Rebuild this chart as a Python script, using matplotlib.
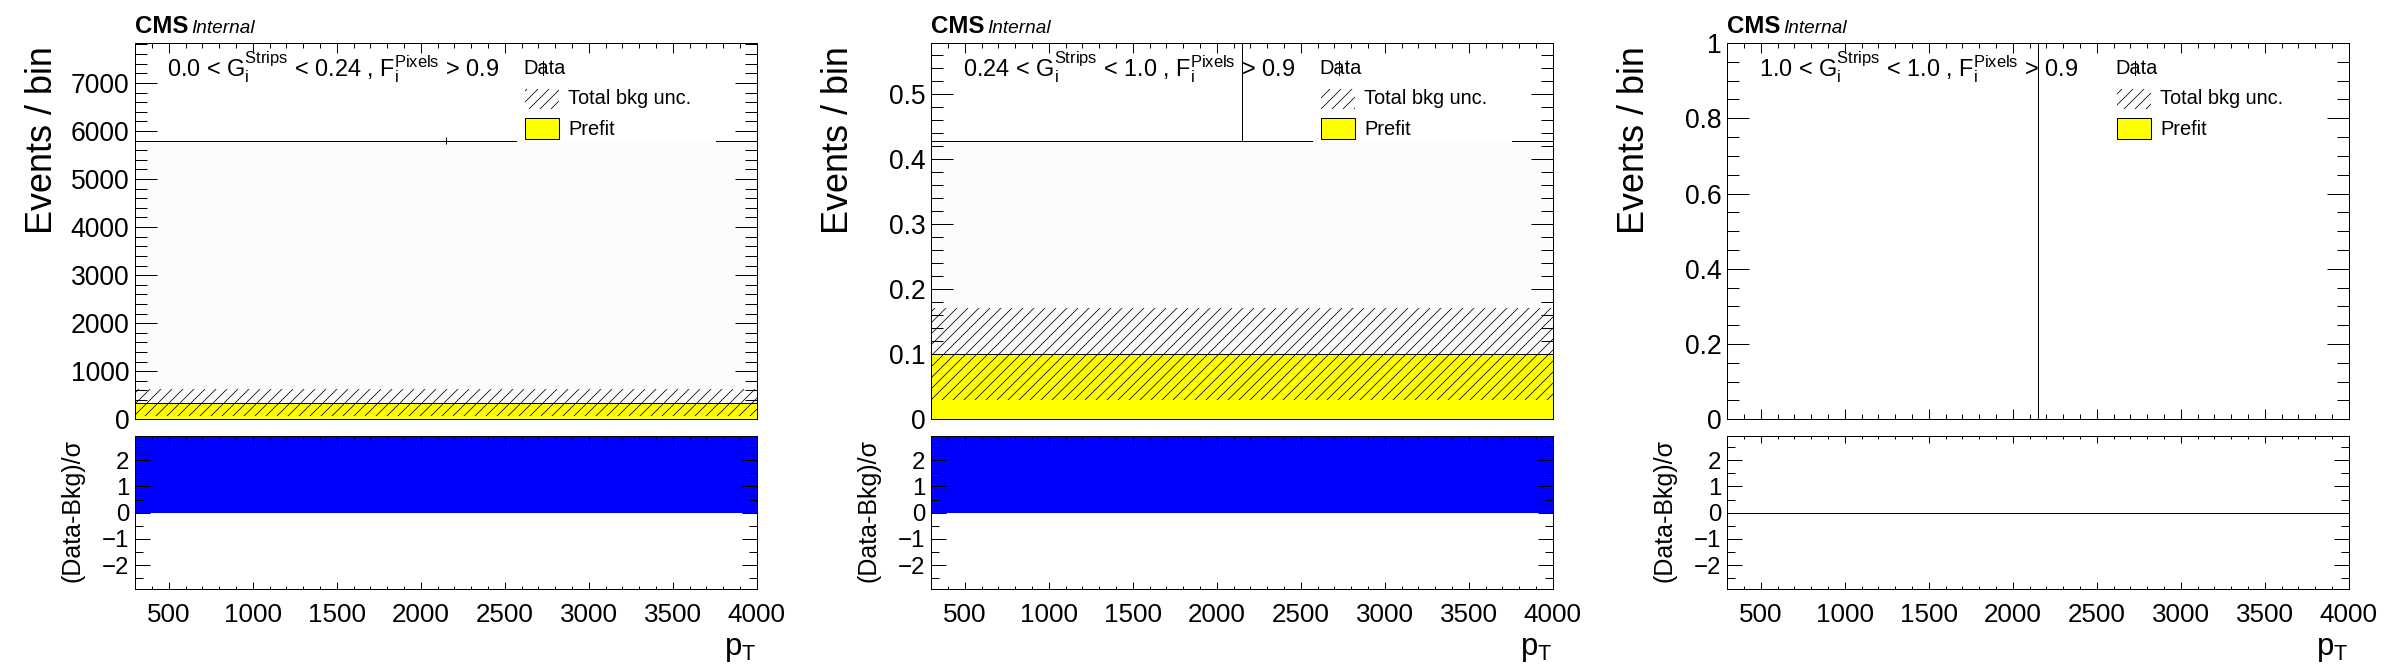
import matplotlib
matplotlib.use("Agg")
import matplotlib.pyplot as plt
from matplotlib.patches import Rectangle
from matplotlib.lines import Line2D
from matplotlib.ticker import MultipleLocator, FuncFormatter
import numpy as np

# values (one bin each)
g_lo = ["0.0", "0.24", "1.0"]
g_hi = ["0.24", "1.0", "1.0"]
f_cut = "0.9"
bin_edges = [300, 4000]
data = [5800, 0.428, 0.0]
data_err_lo = [76, 0.0, 0.0]
data_err_hi = [76, 1.0, 1.84]
bkg = [347, 0.100, 0.0]
bkg_unc = [278, 0.071, 0.0]
pull = [18.9, 4.6, 0.0]
y_max = [7830, 0.578, 1.0]
y_major = [1000, 0.1, 0.2]
y_minor = [200, 0.02, 0.05]
pull_range = 2.92

W, H, DPI = 2388, 672, 132
PT = 72.0 / DPI  # one pixel in points
HATCH = '////'

plt.rcParams['font.family'] = ['Liberation Sans', 'DejaVu Sans']
plt.rcParams['mathtext.fontset'] = 'custom'
plt.rcParams['mathtext.rm'] = 'Liberation Sans'
plt.rcParams['mathtext.it'] = 'Liberation Sans:italic'
plt.rcParams['hatch.linewidth'] = 0.42
plt.rcParams['axes.linewidth'] = PT
plt.rcParams['axes.unicode_minus'] = True

fig = plt.figure(figsize=(W / DPI, H / DPI), dpi=DPI)


def fx(px):
    return px / W


def fy(py):
    return 1 - py / H


def fmt(v, pos):
    s = '%g' % round(v, 6)
    return s.replace('-', '\u2212')


edges = np.array(bin_edges, dtype=float)
center = edges.mean()

for i in range(3):
    off = 796 * i
    ax = fig.add_axes([fx(135.3 + off), fy(419.3), 621.4 / W, 376.3 / H])
    rax = fig.add_axes([fx(135.3 + off), fy(589.3), 621.4 / W, 153.3 / H])

    # upper pad
    ax.stairs([data[i]], edges, fill=True, color='#fcfcfc', lw=0, zorder=1)
    ax.stairs([bkg[i]], edges, fill=True, color='#ffff00', lw=0, zorder=2)
    ax.stairs([bkg[i]], edges, baseline=None, color='black', lw=PT, zorder=3)
    ax.stairs([bkg[i] + bkg_unc[i]], edges, baseline=[bkg[i] - bkg_unc[i]], fill=True,
              facecolor='none', edgecolor='black', hatch=HATCH, lw=0, zorder=4)
    ax.stairs([data[i]], edges, baseline=None, color='black', lw=PT, zorder=5)
    ax.vlines(center, data[i] - data_err_lo[i], data[i] + data_err_hi[i], color='black', lw=PT, zorder=5)

    ax.set_xlim(edges[0], edges[-1])
    ax.set_ylim(0, y_max[i])
    ax.xaxis.set_major_locator(MultipleLocator(500))
    ax.xaxis.set_minor_locator(MultipleLocator(100))
    ax.yaxis.set_major_locator(MultipleLocator(y_major[i]))
    ax.yaxis.set_minor_locator(MultipleLocator(y_minor[i]))
    ax.yaxis.set_major_formatter(FuncFormatter(fmt))
    ax.tick_params(which='both', direction='in', top=True, right=True, labelbottom=False, width=PT)
    ax.tick_params(axis='y', which='major', length=21.7 * PT, labelsize=26.5 * PT, pad=6 * PT)
    ax.tick_params(axis='y', which='minor', length=11.7 * PT)
    ax.tick_params(axis='x', which='major', length=10 * PT)
    ax.tick_params(axis='x', which='minor', length=5 * PT)

    # pull pad
    rax.stairs([pull[i]], edges, fill=True, color='#0000ff', lw=0)
    rax.stairs([pull[i]], edges, baseline=None, color='black', lw=PT)
    rax.set_xlim(edges[0], edges[-1])
    rax.set_ylim(-pull_range, pull_range)
    rax.xaxis.set_major_locator(MultipleLocator(500))
    rax.xaxis.set_minor_locator(MultipleLocator(100))
    rax.yaxis.set_major_locator(MultipleLocator(1))
    rax.yaxis.set_minor_locator(MultipleLocator(0.5))
    rax.yaxis.set_major_formatter(FuncFormatter(fmt))
    rax.tick_params(which='both', direction='in', top=True, right=True, width=PT)
    rax.tick_params(axis='y', which='major', length=15 * PT, labelsize=24 * PT, pad=6 * PT)
    rax.tick_params(axis='y', which='minor', length=8 * PT)
    rax.tick_params(axis='x', which='major', length=7 * PT, labelsize=26 * PT, pad=14 * PT)
    rax.tick_params(axis='x', which='minor', length=3.5 * PT)

    # labels
    fig.text(fx(135 + off), fy(33), "CMS", weight='bold', size=24 * PT, va='baseline')
    fig.text(fx(191 + off), fy(33), "Internal", style='italic', size=19 * PT, va='baseline')
    region = (g_lo[i] + r" < $\mathregular{G_{i}^{Strips}}$ < " + g_hi[i]
              + r" , $\mathregular{F_{i}^{Pixels}}$ > " + f_cut)
    fig.text(fx(166.7 + off), fy(76.3), region, size=23.5 * PT, va='baseline')

    fig.text(fx(52 + off), fy(46), "Events / bin", rotation=90, rotation_mode='anchor',
             ha='right', va='baseline', size=36 * PT)
    fig.text(fx(80 + off), fy(439), "(Data-Bkg)/\u03c3", rotation=90, rotation_mode='anchor',
             ha='right', va='baseline', size=25 * PT)
    fig.text(fx(756.7 + off), fy(655), r"$\mathregular{p_{T}}$", ha='right', va='baseline', size=31 * PT)

    # legend
    fig.add_artist(Rectangle((fx(517 + off), fy(141.5)), 199 / W, 86.5 / H, transform=fig.transFigure,
                             facecolor='white', edgecolor='none', zorder=5))
    fig.text(fx(523 + off), fy(74.3), "Data", size=20 * PT, va='baseline', zorder=6)
    fig.add_artist(Line2D([fx(543.3 + off)] * 2, [fy(60.7), fy(75)], transform=fig.transFigure,
                          color='black', lw=PT, zorder=6))
    fig.add_artist(Rectangle((fx(524.7 + off), fy(109)), 34.6 / W, 20 / H, transform=fig.transFigure,
                             facecolor='none', edgecolor='black', hatch=HATCH, lw=0, zorder=6))
    fig.text(fx(568 + off), fy(104.3), "Total bkg unc.", size=20 * PT, va='baseline', zorder=6)
    fig.add_artist(Rectangle((fx(524.7 + off), fy(139.3)), 34.6 / W, 21 / H, transform=fig.transFigure,
                             facecolor='#ffff00', edgecolor='black', lw=PT, zorder=6))
    fig.text(fx(568 + off), fy(135), "Prefit", size=20 * PT, va='baseline', zorder=6)

fig.savefig('out.png', dpi=DPI)
